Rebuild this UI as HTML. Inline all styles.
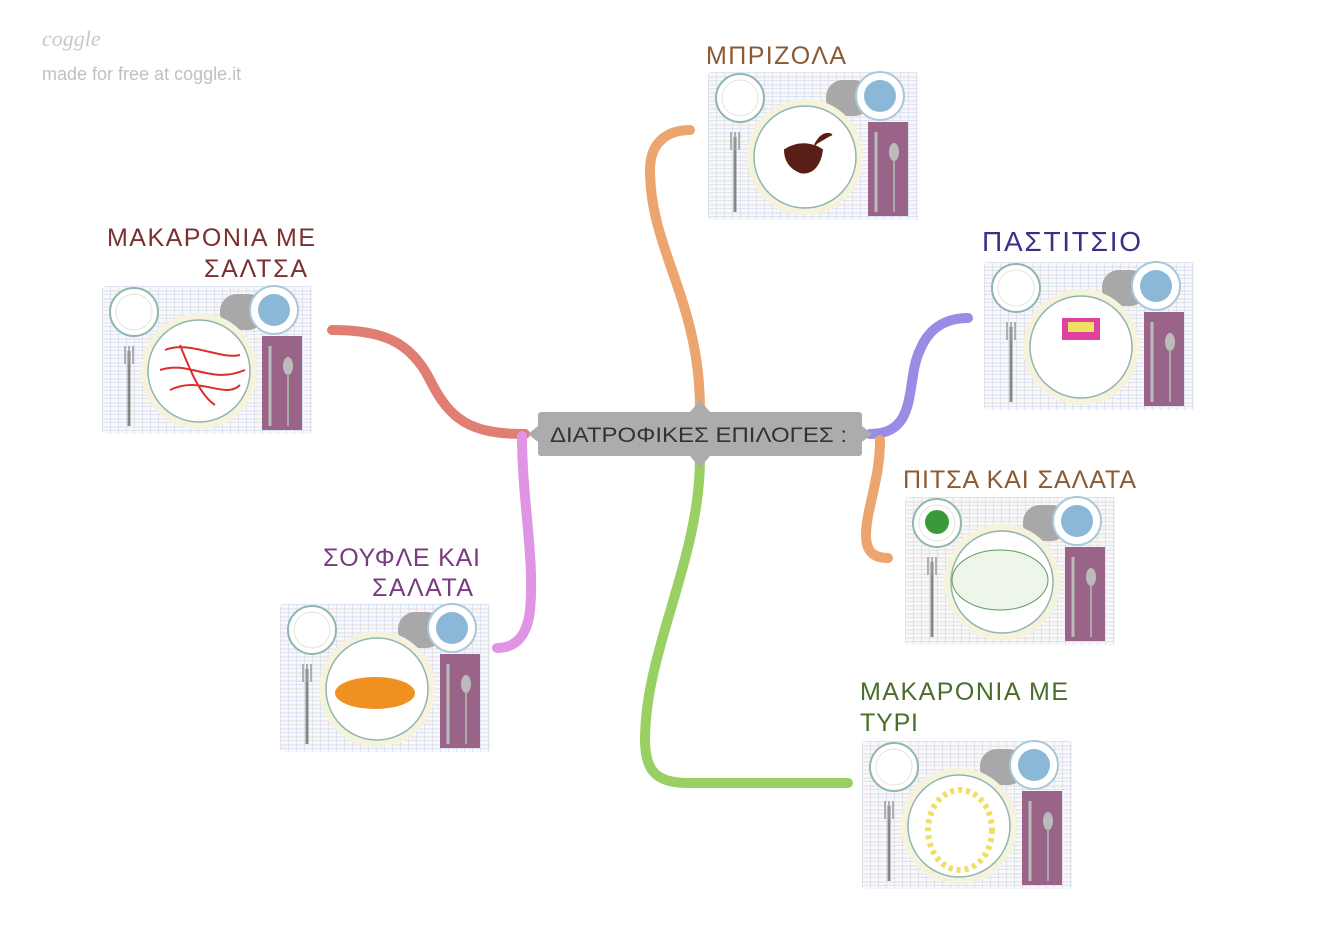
<!DOCTYPE html>
<html><head><meta charset="utf-8"><style>
html,body{margin:0;padding:0;background:#fff;}
svg{display:block;font-family:"Liberation Sans",sans-serif;}
</style></head><body>
<svg width="1340" height="936" viewBox="0 0 1340 936" xmlns="http://www.w3.org/2000/svg">
<defs>
<pattern id="grid" width="8" height="8" patternUnits="userSpaceOnUse">
<rect width="8" height="8" fill="#f6f8fc"/>
<path d="M0 0H8M0 0V8" stroke="#cdd8ee" stroke-width="1.2"/>
<path d="M0 5H8" stroke="#ecd3c0" stroke-width="0.8"/>
</pattern>
<g id="plate">
<rect x="0" y="0" width="210" height="148" fill="url(#grid)" rx="3"/>
<circle cx="32" cy="26" r="24" fill="#fff" stroke="#8fb6b0" stroke-width="2"/>
<circle cx="32" cy="26" r="18" fill="#fff" stroke="#e6e6d6"/>
<rect x="118" y="8" width="45" height="36" rx="17" fill="#a8a8a8"/>
<circle cx="172" cy="24" r="24" fill="#fff" stroke="#a8c8d8" stroke-width="2"/>
<circle cx="172" cy="24" r="16" fill="#8cb8d8"/>
<rect x="160" y="50" width="40" height="94" fill="#9a6488"/>
<circle cx="97" cy="85" r="58" fill="#f6f3dc"/>
<circle cx="97" cy="85" r="51" fill="#fff" stroke="#8fb6b0" stroke-width="1.5"/>
<path d="M27 65V140" stroke="#888" stroke-width="3"/>
<path d="M23 60V78M27 60V78M31 60V78" stroke="#999" stroke-width="1.5"/>
<path d="M168 60V140" stroke="#bbb" stroke-width="3"/>
<ellipse cx="186" cy="80" rx="5" ry="9" fill="#bbb"/>
<path d="M186 88V140" stroke="#aaa" stroke-width="2"/>
</g>
</defs>

<text x="42" y="46" font-size="22" fill="#c8c8c8" font-style="italic" font-family="Liberation Serif,serif">coggle</text>
<text x="42" y="80" font-size="18" fill="#c0c0c0">made for free at coggle.it</text>

<g fill="none" stroke-linecap="round" stroke-width="10">
<path d="M700,410 C700,300 650,250 650,170 C650,140 670,130 690,130" stroke="#eda56f"/>
<path d="M525,434 C470,434 450,420 430,380 C410,340 380,330 332,330" stroke="#e07e74"/>
<path d="M522,436 C522,500 535,560 530,610 C527,640 512,648 497,648" stroke="#df94e4"/>
<path d="M700,458 C700,560 645,650 645,740 C645,775 660,783 690,783 L848,783" stroke="#98d064"/>
<path d="M870,434 C920,434 905,380 920,350 C930,325 950,318 968,318" stroke="#9a8ce4"/>
<path d="M880,440 C880,480 866,510 866,535 C866,553 875,558 888,558" stroke="#eda56f"/>
</g>

<rect x="538" y="412" width="324" height="44" rx="3" fill="#acacac"/>
<path d="M690,412 L700,400 L710,412Z M690,456 L700,468 L710,456Z M538,426 L528,434 L538,442Z M862,426 L872,434 L862,442Z" fill="#acacac"/>
<text x="550" y="442" font-size="21" fill="#333" textLength="297" lengthAdjust="spacingAndGlyphs">ΔΙΑΤΡΟΦΙΚΕΣ ΕΠΙΛΟΓΕΣ :</text>

<use href="#plate" x="708" y="72"/>
<path d="M785,150 C800,140 815,145 822,150 C820,165 812,175 800,172 C790,168 785,160 785,150Z M815,145 C820,135 826,132 832,135" fill="#5a1e18" stroke="#5a1e18" stroke-width="2"/>
<use href="#plate" x="984" y="262"/>
<rect x="1062" y="318" width="38" height="22" fill="#e040a0"/><rect x="1068" y="322" width="26" height="10" fill="#f0e060"/>
<use href="#plate" x="905" y="497"/>
<ellipse cx="1000" cy="580" rx="48" ry="30" fill="#eef6ea" stroke="#5a9a5a"/>
<circle cx="937" cy="522" r="12" fill="#3a9a3a"/>
<use href="#plate" x="862" y="741"/>
<ellipse cx="960" cy="830" rx="32" ry="40" fill="none" stroke="#eee066" stroke-width="6" stroke-dasharray="4 4"/>
<use href="#plate" x="280" y="604"/>
<ellipse cx="375" cy="693" rx="40" ry="16" fill="#f09020"/>
<use href="#plate" x="102" y="286"/>
<g fill="none" stroke="#d83030" stroke-width="2"><path d="M165,350 C190,340 220,360 240,355 M160,370 C190,360 210,385 245,370 M170,390 C200,375 225,400 240,385 M180,345 C190,370 200,395 215,405"/></g>

<g font-size="25" lengthAdjust="spacingAndGlyphs">
<text x="706" y="64" fill="#8a5a32" textLength="140">ΜΠΡΙΖΟΛΑ</text>
<text x="982" y="251" fill="#3e2f86" font-size="28" textLength="159">ΠΑΣΤΙΤΣΙΟ</text>
<text x="903" y="488" fill="#8a5a32" textLength="233">ΠΙΤΣΑ ΚΑΙ ΣΑΛΑΤΑ</text>
<text x="860" y="700" fill="#4a6e2a" textLength="208">ΜΑΚΑΡΟΝΙΑ ΜΕ</text>
<text x="860" y="731" fill="#4a6e2a" textLength="58">ΤΥΡΙ</text>
<text x="323" y="566" fill="#7a3a80" textLength="157">ΣΟΥΦΛΕ ΚΑΙ</text>
<text x="372" y="596" fill="#7a3a80" textLength="101">ΣΑΛΑΤΑ</text>
<text x="107" y="246" fill="#7a3030" textLength="208">ΜΑΚΑΡΟΝΙΑ ΜΕ</text>
<text x="204" y="277" fill="#7a3030" textLength="103">ΣΑΛΤΣΑ</text>
</g>
</svg>
</body></html>
